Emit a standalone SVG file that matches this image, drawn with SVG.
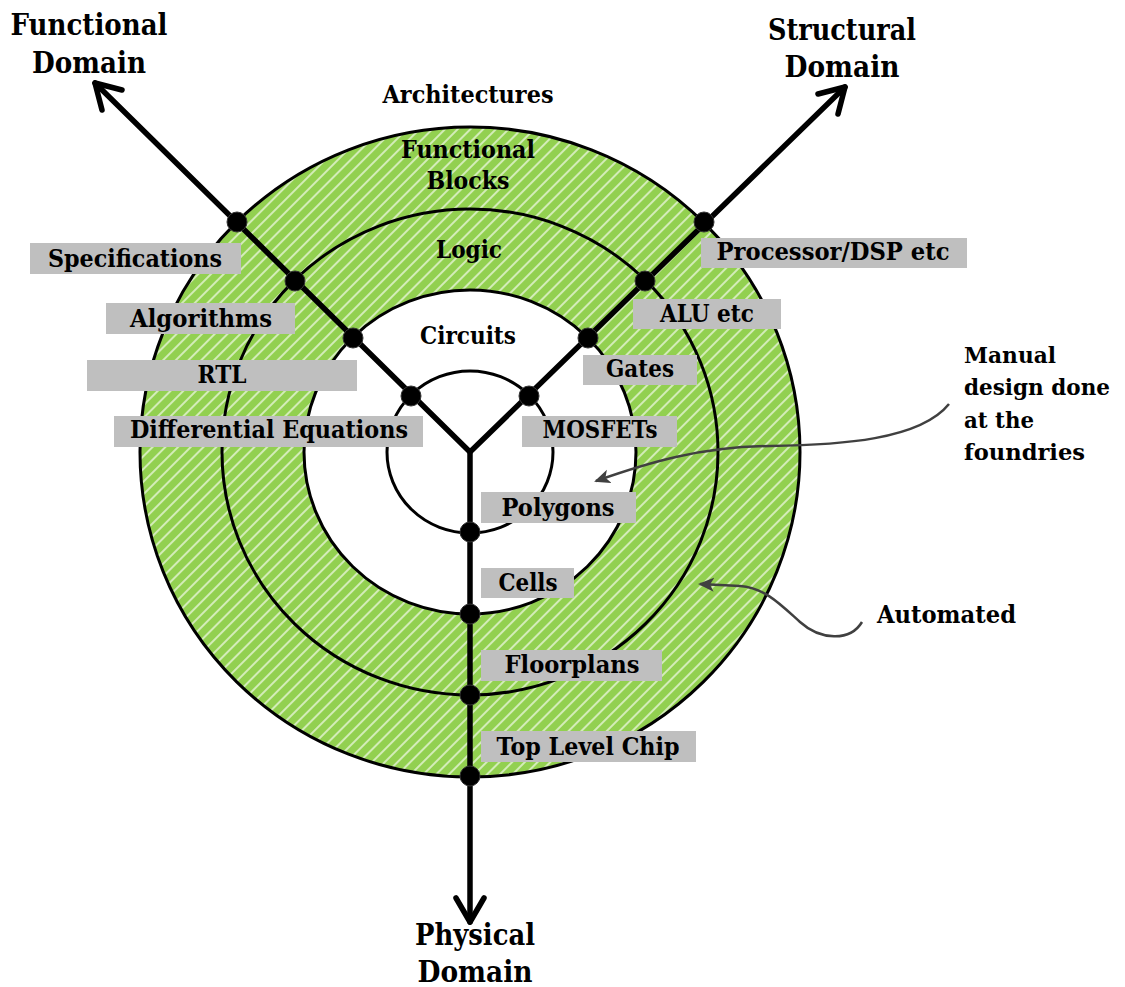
<svg xmlns="http://www.w3.org/2000/svg" width="1125" height="987" viewBox="0 0 1125 987">
<style>
.t{font-family:"DejaVu Serif","Liberation Serif",serif;font-weight:bold;font-size:24.5px;fill:#000;text-anchor:middle}
.big{font-size:29.5px}
.l{text-anchor:start}
.note{font-size:21.5px}
.box{fill:#BFBFBF}
.ring{stroke:#000;stroke-width:3}
.axis{fill:none;stroke:#000;stroke-width:5.5;stroke-linecap:round;stroke-linejoin:round}
.dot{fill:#000;stroke:#333;stroke-width:1}
.ann{fill:none;stroke:#404040;stroke-width:2.5}
</style>
<defs>
<pattern id="hatch" patternUnits="userSpaceOnUse" width="9" height="9" patternTransform="rotate(45)">
<rect width="9" height="9" fill="#92D050"/>
<line x1="1" y1="0" x2="1" y2="9" stroke="#fff" stroke-width="1.4" stroke-opacity="0.85"/>
</pattern>
<marker id="arr" markerUnits="userSpaceOnUse" markerWidth="18" markerHeight="16" refX="14" refY="7" orient="auto">
<path d="M0,0 L16,7 L0,14 L4,7 Z" fill="#404040"/>
</marker>
</defs>
<rect width="1125" height="987" fill="#fff"/>
<g id="rings">
<ellipse class="ring" cx="470" cy="452" rx="330" ry="325" fill="url(#hatch)"/>
<ellipse class="ring" cx="470" cy="452" rx="248" ry="243" fill="none"/>
<ellipse class="ring" cx="470" cy="452" rx="166" ry="162" fill="#fff"/>
<ellipse class="ring" cx="470" cy="452" rx="83" ry="81" fill="none"/>
</g>
<g id="ring-labels">
<g id="architectures"><text class="t" x="468" y="103" textLength="171" lengthAdjust="spacingAndGlyphs">Architectures</text></g>
<g id="functional-blocks"><text class="t" x="468" y="158" textLength="134" lengthAdjust="spacingAndGlyphs">Functional</text><text class="t" x="468" y="189" textLength="83" lengthAdjust="spacingAndGlyphs">Blocks</text></g>
<g id="logic"><text class="t" x="469" y="258" textLength="66" lengthAdjust="spacingAndGlyphs">Logic</text></g>
<g id="circuits"><text class="t" x="468" y="344" textLength="96" lengthAdjust="spacingAndGlyphs">Circuits</text></g>
</g>
<g id="connectors">
<polyline class="axis" points="95,83 470,452 845,87"/>
<line class="axis" x1="470" y1="452" x2="470" y2="922"/>
<polyline class="axis" points="122,90 95,83 102,110"/>
<polyline class="axis" points="818,94 845,87 838,114"/>
<polyline class="axis" points="456,898 470,922 484,898"/>
<path class="ann" d="M949,404 C920,440 840,445 770,446 C700,447 650,462 596,481" marker-end="url(#arr)"/>
<path class="ann" d="M862,622 C850,642 820,640 800,622 C780,604 765,588 740,586 L700,584" marker-end="url(#arr)"/>
</g>
<g id="dots">
<circle class="dot" cx="237" cy="222" r="10"/>
<circle class="dot" cx="295" cy="281" r="10"/>
<circle class="dot" cx="353" cy="338" r="10"/>
<circle class="dot" cx="411" cy="396" r="10"/>
<circle class="dot" cx="704" cy="222" r="10"/>
<circle class="dot" cx="645" cy="281" r="10"/>
<circle class="dot" cx="588" cy="338" r="10"/>
<circle class="dot" cx="529" cy="396" r="10"/>
<circle class="dot" cx="470" cy="532" r="10"/>
<circle class="dot" cx="470" cy="614" r="10"/>
<circle class="dot" cx="470" cy="695" r="10"/>
<circle class="dot" cx="470" cy="776" r="10"/>
</g>
<g id="specifications"><rect class="box" x="30" y="243" width="211" height="31"/><text class="t" x="135" y="267" textLength="174" lengthAdjust="spacingAndGlyphs">Specifications</text></g>
<g id="algorithms"><rect class="box" x="106" y="303" width="189" height="31"/><text class="t" x="201" y="327" textLength="142" lengthAdjust="spacingAndGlyphs">Algorithms</text></g>
<g id="rtl"><rect class="box" x="87" y="360" width="270" height="31"/><text class="t" x="222" y="383" textLength="49" lengthAdjust="spacingAndGlyphs">RTL</text></g>
<g id="differential-equations"><rect class="box" x="114" y="416" width="309" height="31"/><text class="t" x="269" y="438" textLength="278" lengthAdjust="spacingAndGlyphs">Differential Equations</text></g>
<g id="processor"><rect class="box" x="701" y="238" width="266" height="30"/><text class="t" x="833" y="260" textLength="233" lengthAdjust="spacingAndGlyphs">Processor/DSP etc</text></g>
<g id="alu"><rect class="box" x="633" y="299" width="148" height="30"/><text class="t" x="707" y="322" textLength="94" lengthAdjust="spacingAndGlyphs">ALU etc</text></g>
<g id="gates"><rect class="box" x="583" y="355" width="114" height="30"/><text class="t" x="640" y="377" textLength="68" lengthAdjust="spacingAndGlyphs">Gates</text></g>
<g id="mosfets"><rect class="box" x="522" y="416" width="155" height="31"/><text class="t" x="600" y="438" textLength="115" lengthAdjust="spacingAndGlyphs">MOSFETs</text></g>
<g id="polygons"><rect class="box" x="481" y="492" width="155" height="31"/><text class="t" x="558" y="516" textLength="113" lengthAdjust="spacingAndGlyphs">Polygons</text></g>
<g id="cells"><rect class="box" x="481" y="568" width="93" height="30"/><text class="t" x="528" y="591" textLength="59" lengthAdjust="spacingAndGlyphs">Cells</text></g>
<g id="floorplans"><rect class="box" x="481" y="650" width="181" height="31"/><text class="t" x="572" y="673" textLength="135" lengthAdjust="spacingAndGlyphs">Floorplans</text></g>
<g id="top-level-chip"><rect class="box" x="481" y="731" width="215" height="31"/><text class="t" x="588" y="755" textLength="183" lengthAdjust="spacingAndGlyphs">Top Level Chip</text></g>
<g id="functional-domain"><text class="t big" x="89" y="35" textLength="157" lengthAdjust="spacingAndGlyphs">Functional</text><text class="t big" x="89" y="73" textLength="114" lengthAdjust="spacingAndGlyphs">Domain</text></g>
<g id="structural-domain"><text class="t big" x="842" y="40" textLength="148" lengthAdjust="spacingAndGlyphs">Structural</text><text class="t big" x="842" y="77" textLength="115" lengthAdjust="spacingAndGlyphs">Domain</text></g>
<g id="physical-domain"><text class="t big" x="475" y="945" textLength="120" lengthAdjust="spacingAndGlyphs">Physical</text><text class="t big" x="475" y="982" textLength="115" lengthAdjust="spacingAndGlyphs">Domain</text></g>
<g id="manual-note"><text class="t l note" x="964" y="363" textLength="92" lengthAdjust="spacingAndGlyphs">Manual</text><text class="t l note" x="964" y="395" textLength="146" lengthAdjust="spacingAndGlyphs">design done</text><text class="t l note" x="964" y="428" textLength="70" lengthAdjust="spacingAndGlyphs">at the</text><text class="t l note" x="964" y="460" textLength="121" lengthAdjust="spacingAndGlyphs">foundries</text></g>
<g id="automated-note"><text class="t l" x="877" y="623" textLength="139" lengthAdjust="spacingAndGlyphs">Automated</text></g>
</svg>
